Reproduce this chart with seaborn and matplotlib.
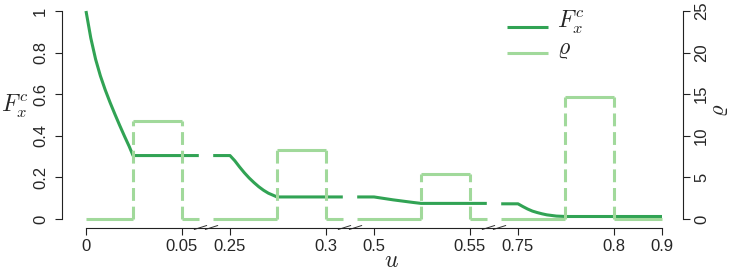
import numpy as np
import matplotlib
matplotlib.use("Agg")
import matplotlib.pyplot as plt
from matplotlib.lines import Line2D
import seaborn as sns

sns.set_style("ticks")
plt.rcParams["font.family"] = ["Liberation Sans", "DejaVu Sans"]
plt.rcParams["mathtext.fontset"] = "cm"

# ── broken u-axis: tick values and where they sit on the compressed axis ──
tick_u = [0, 0.05, 0.25, 0.3, 0.5, 0.55, 0.75, 0.8, 0.9]
tick_pos = [0, 2, 3, 5, 6, 8, 9, 11, 12]
tick_lab = ["0", "0.05", "0.25", "0.3", "0.5", "0.55", "0.75", "0.8", "0.9"]

# ── F_x^c, one array per axis segment ──
u1 = [0, 0.0025, 0.005, 0.0075, 0.01, 0.0125, 0.015, 0.0175, 0.02, 0.0225, 0.0245, 0.05]
F1 = [1.0, 0.87, 0.768, 0.688, 0.621, 0.561, 0.505, 0.451, 0.399, 0.349, 0.305, 0.305]
u2 = [0.25, 0.2525, 0.255, 0.2575, 0.26, 0.2625, 0.265, 0.2675, 0.27, 0.2725, 0.2745, 0.3]
F2 = [0.305, 0.28, 0.25, 0.222, 0.197, 0.175, 0.155, 0.138, 0.124, 0.114, 0.106, 0.106]
u3 = [0.5, 0.505, 0.51, 0.515, 0.52, 0.5245, 0.55]
F3 = [0.106, 0.099, 0.092, 0.086, 0.080, 0.075, 0.075]
u4 = [0.75, 0.7525, 0.755, 0.7575, 0.76, 0.7625, 0.765, 0.7675, 0.77, 0.775, 0.9]
F4 = [0.073, 0.060, 0.048, 0.038, 0.031, 0.025, 0.020, 0.017, 0.014, 0.012, 0.012]

# ── rho: piecewise constant, one bump per segment ──
seg_lo = [0, 0.25, 0.5, 0.75]
seg_hi = [0.05, 0.3, 0.55, 0.9]
rho_start = [0.0245, 0.2745, 0.5245, 0.7745]
rho_end = [0.05, 0.3, 0.55, 0.8]
rho_val = [11.8, 8.3, 5.45, 14.7]

dark = "#31a354"
light = "#a1d99b"
lw = 2.2
dash = (0, (4.2, 1.9))
ext = 0.35  # how far each segment runs into the gap


def to_s(u):
    return np.interp(u, tick_u, tick_pos)


W, H = 730, 274
fig = plt.figure(figsize=(W / 100, H / 100), dpi=100)
# axes box in pixels: left 62, right 683, top 8, bottom 228
ax = fig.add_axes([62 / W, 1 - 228 / H, (683 - 62) / W, (228 - 8) / H])
ax2 = ax.twinx()
ax.set_xlim(-0.5, (683 - 86) / 48)
ax.set_ylim(-9 / 208, 211 / 208)
ax2.set_ylim(-9 * 25 / 208, 211 * 25 / 208)

nseg = len(seg_lo)
for i, (uu, FF) in enumerate(zip([u1, u2, u3, u4], [F1, F2, F3, F4])):
    s = list(to_s(uu))
    f = list(FF)
    if i > 0:
        s = [s[0] - ext] + s
        f = [f[0]] + f
    if i < nseg - 1:
        s = s + [s[-1] + ext]
        f = f + [f[-1]]
    sns.lineplot(x=s, y=f, ax=ax, color=dark, lw=lw, estimator=None,
                 sort=False, solid_capstyle="butt")

for i in range(nseg):
    lo = to_s(seg_lo[i]) - (ext if i > 0 else 0)
    hi = to_s(seg_hi[i]) + (ext if i < nseg - 1 else 0)
    a, b = to_s(rho_start[i]), to_s(rho_end[i])
    for x0, x1, v in [(lo, a, 0), (a, b, rho_val[i]), (b, hi, 0)]:
        sns.lineplot(x=[x0, x1], y=[v, v], ax=ax2, color=light, lw=lw,
                     estimator=None, solid_capstyle="butt")
    ax2.vlines([a, b], 0, rho_val[i], color=light, lw=lw, linestyles=[dash])

# break marks on the u axis
yb = -9 / 208
for g in [2.5, 5.5, 8.5]:
    for dx in [-0.115, 0.115]:
        ax.plot([g + dx - 0.13, g + dx + 0.13], [yb - 1.5 / 208, yb + 2.5 / 208],
                color="#333333", lw=0.7, clip_on=False)

# spines and ticks, R style
for sp in ["top", "right"]:
    ax.spines[sp].set_visible(False)
for sp in ["top", "left", "bottom"]:
    ax2.spines[sp].set_visible(False)
ax.spines["left"].set_bounds(0, 1)
ax.spines["bottom"].set_bounds(0, 12)
ax2.spines["right"].set_bounds(0, 25)
for s_ in [ax.spines["left"], ax.spines["bottom"], ax2.spines["right"]]:
    s_.set_color("#222222")
    s_.set_linewidth(0.8)

ax.set_xticks(tick_pos)
ax.set_xticklabels(tick_lab)
ax.set_yticks([0, 0.2, 0.4, 0.6, 0.8, 1])
ax.set_yticklabels(["0", "0.2", "0.4", "0.6", "0.8", "1"])
ax2.set_yticks([0, 5, 10, 15, 20, 25])
ax.tick_params(axis="x", length=5, width=0.8, color="#222222", labelsize=12, pad=3)
ax.tick_params(axis="y", length=5, width=0.8, color="#222222", labelsize=12, pad=5,
               labelrotation=90)
ax2.tick_params(axis="y", length=5, width=0.8, color="#222222", labelsize=12, pad=3,
                labelrotation=90)
for t in ax.get_yticklabels() + ax2.get_yticklabels():
    t.set_va("center")

ax.set_xlabel("")
ax.set_ylabel("")
ax2.set_ylabel("")
fig.text(15 / W, 1 - 106 / H, r"$F_x^c$", fontsize=17, ha="center", va="center")
fig.text(719 / W, 1 - 110 / H, r"$\varrho$", fontsize=16, ha="center", va="center",
         rotation=90)
fig.text(391 / W, 1 - 261 / H, r"$u$", fontsize=17, ha="center", va="center")

# legend, drawn by hand to sit where the reference has it
for y, col, lab in [(27, dark, r"$F_x^c$"), (53, light, r"$\varrho$")]:
    fig.add_artist(Line2D([507 / W, 548 / W], [1 - y / H, 1 - y / H], color=col,
                          lw=lw, transform=fig.transFigure, solid_capstyle="butt"))
    fig.text(557 / W, 1 - (y + 1) / H, lab, fontsize=17, ha="left",
             va="baseline")

fig.savefig("out.png", dpi=100)
